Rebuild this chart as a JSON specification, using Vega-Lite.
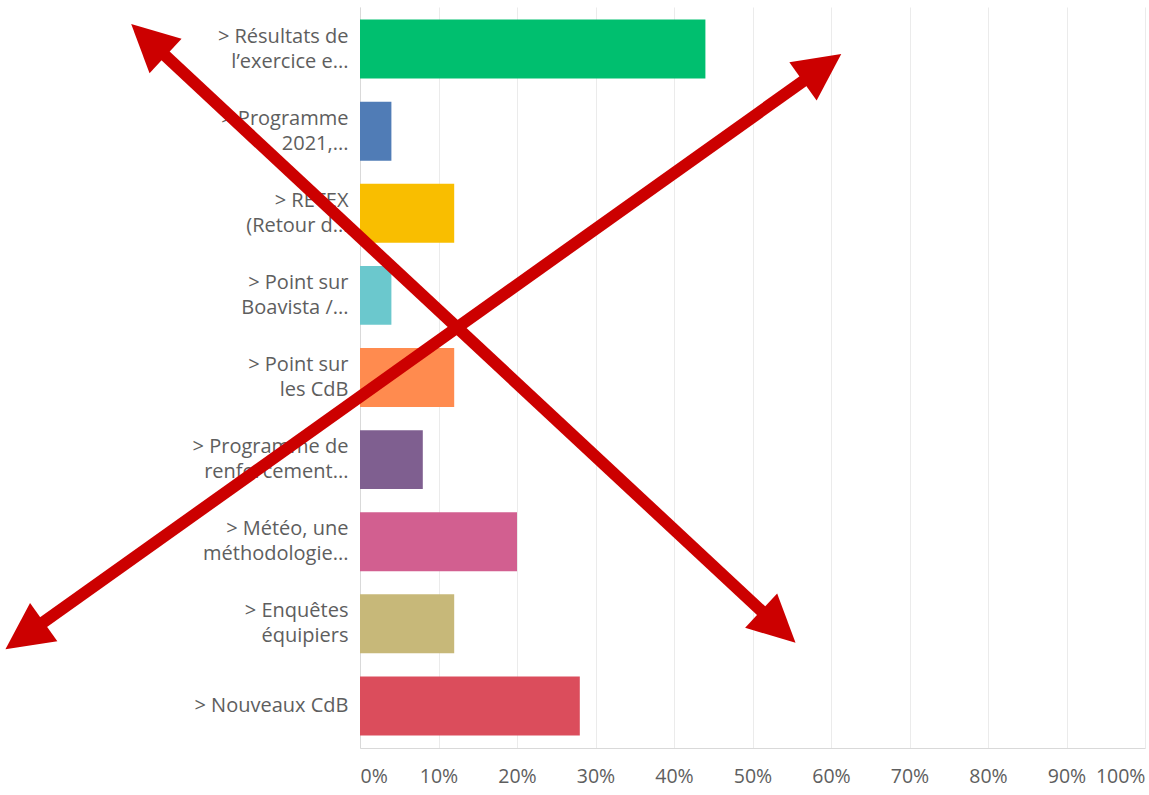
{
  "$schema": "https://vega.github.io/schema/vega-lite/v6.json",
  "width": 785,
  "height": 741,
  "autosize": {"type": "none"},
  "padding": {"left": 360, "top": 7, "right": 4, "bottom": 47},
  "background": "white",
  "config": {"view": {"stroke": null}, "font": "Open Sans"},
  "datasets": {
    "bars": [
      {"label": "> Résultats de|l’exercice e...", "share": 0.44},
      {"label": "> Programme|2021,...", "share": 0.04},
      {"label": "> RETEX|(Retour d...", "share": 0.12},
      {"label": "> Point sur|Boavista /...", "share": 0.04},
      {"label": "> Point sur|les CdB", "share": 0.12},
      {"label": "> Programme de|renforcement...", "share": 0.08},
      {"label": "> Météo, une|méthodologie...", "share": 0.20},
      {"label": "> Enquêtes|équipiers", "share": 0.12},
      {"label": "> Nouveaux CdB", "share": 0.28}
    ],
    "arrows": [
      {"xa": -0.2696, "ya": 4.45, "xb": 0.5329, "yb": 83.63},
      {"xa": 0.5887, "ya": 8.18, "xb": -0.4273, "yb": 84.84}
    ],
    "heads": [
      {"x": -0.2696, "y": 4.45, "angle": 313},
      {"x": 0.5329, "y": 83.63, "angle": 133},
      {"x": 0.5887, "y": 8.18, "angle": 54.5},
      {"x": -0.4273, "y": 84.84, "angle": 234.5}
    ]
  },
  "layer": [
    {
      "data": {"name": "bars"},
      "mark": {"type": "bar"},
      "encoding": {
        "y": {
          "field": "label", "type": "nominal", "sort": null,
          "scale": {"paddingInner": 0.282, "paddingOuter": 0.153},
          "axis": {
            "title": null, "labelExpr": "split(datum.value, '|')",
            "ticks": false, "labelFontSize": 20, "labelColor": "#5e5e5e",
            "labelPadding": 12, "labelLineHeight": 25, "labelLimit": 300,
            "domainColor": "#d9d9d9", "domainWidth": 1,
            "labelOffset": {"condition": {"test": "indexof(datum.value, '|') >= 0", "value": -12.5}, "value": 0}
          }
        },
        "x": {
          "field": "share", "type": "quantitative",
          "scale": {"domain": [0, 1]},
          "axis": {
            "title": null, "format": ".0%",
            "values": [0, 0.1, 0.2, 0.3, 0.4, 0.5, 0.6, 0.7, 0.8, 0.9, 1],
            "labelFlush": true, "grid": true, "gridColor": "#ebebeb",
            "ticks": false, "domainColor": "#d9d9d9",
            "labelFontSize": 19.5, "labelColor": "#5e5e5e", "labelPadding": 19
          }
        },
        "color": {
          "field": "label", "type": "nominal", "sort": null, "legend": null,
          "scale": {"range": ["#00BF6F", "#507CB6", "#F9BE00", "#6BC8CD", "#FF8B4F", "#7F5F90", "#D25F90", "#C7B879", "#DB4D5C"]}
        }
      }
    },
    {
      "data": {"name": "arrows"},
      "mark": {"type": "rule", "color": "#CC0000", "strokeWidth": 12, "strokeCap": "butt"},
      "encoding": {
        "x": {"field": "xa", "type": "quantitative", "scale": {"domain": [0, 1]}},
        "x2": {"field": "xb"},
        "y": {"field": "ya", "type": "quantitative", "scale": {"domain": [0, 100], "reverse": true}, "axis": null},
        "y2": {"field": "yb"}
      }
    },
    {
      "data": {"name": "heads"},
      "mark": {"type": "point", "shape": "M0,-1L-1,1L1,1Z", "filled": true, "color": "#CC0000", "opacity": 1, "size": 2209},
      "encoding": {
        "x": {"field": "x", "type": "quantitative", "scale": {"domain": [0, 1]}},
        "y": {"field": "y", "type": "quantitative", "scale": {"domain": [0, 100], "reverse": true}, "axis": null},
        "angle": {"field": "angle", "type": "quantitative", "scale": null}
      }
    }
  ],
  "resolve": {"scale": {"y": "independent"}}
}
